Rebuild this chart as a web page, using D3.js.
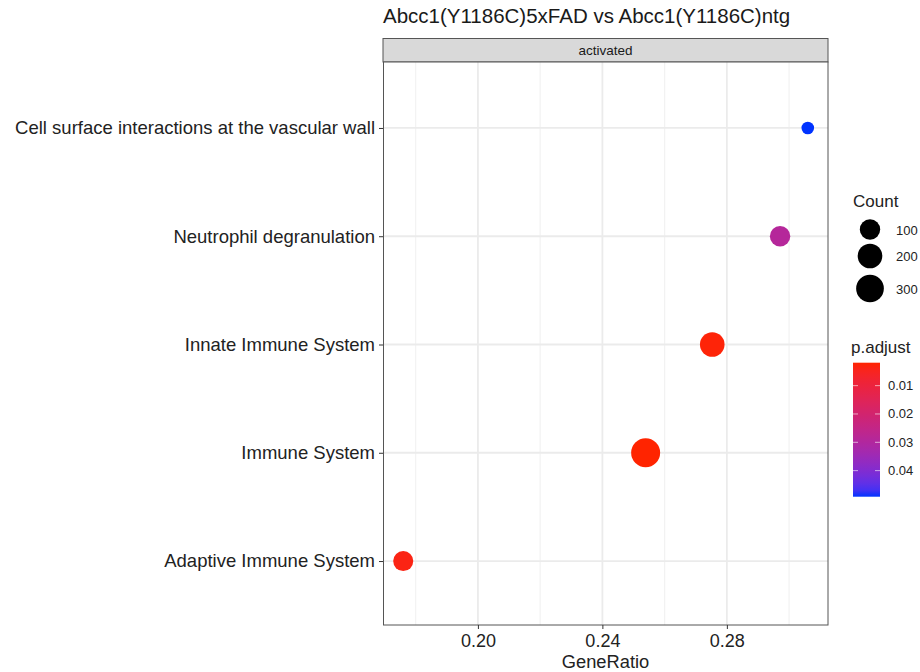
<!DOCTYPE html>
<html>
<head>
<meta charset="utf-8">
<script src="https://cdn.jsdelivr.net/npm/d3@7"></script>
<style>
  body { margin: 0; background: #fff; }
  svg { display: block; font-family: "Liberation Sans", Arial, Helvetica, sans-serif; }
</style>
</head>
<body>
<svg id="chart" width="920" height="672"></svg>
<script>
// ---- data ----
const categories = [
  "Cell surface interactions at the vascular wall",
  "Neutrophil degranulation",
  "Innate Immune System",
  "Immune System",
  "Adaptive Immune System"
];
const geneRatio = [0.306, 0.2971, 0.2753, 0.2539, 0.1760];
const counts = [28, 100, 199, 348, 95];
const pAdjust = [0.0492, 0.0290, 0.0025, 0.0019, 0.0035];
const xTicks = [0.20, 0.24, 0.28];
const xMinorTicks = [0.18, 0.22, 0.26, 0.30];
const countLegend = [100, 200, 300];
const pTicks = [0.01, 0.02, 0.03, 0.04];
const titleText = "Abcc1(Y1186C)5xFAD vs Abcc1(Y1186C)ntg";
const facetLabel = "activated";

const rows = categories.map((c, i) => ({ cat: c, x: geneRatio[i], count: counts[i], p: pAdjust[i] }));

const svg = d3.select("#chart");
const panel = { left: 383, right: 828, top: 62, bottom: 625 };

// x scale with 5% expansion
const xExt = d3.extent(geneRatio);
const xPad = (xExt[1] - xExt[0]) * 0.05;
const x = d3.scaleLinear().domain([xExt[0] - xPad, xExt[1] + xPad]).range([panel.left, panel.right]);

// y discrete with 0.6 expansion
const n = categories.length;
const step = (panel.bottom - panel.top) / (n - 1 + 1.2);
const y = d3.scalePoint().domain(categories).range([panel.top + 0.6 * step + 1, panel.bottom - 0.6 * step + 1]);

// size scale (area palette)
const cExt = d3.extent(counts);
const norm = d3.scaleLinear().domain(cExt).range([0, 1]);
const rS = d3.scaleSqrt().domain([0, 1]).range([6.3, 14.5]);
const radius = c => rS(Math.max(0, norm(c)));

// colour scale
const pExt = d3.extent(pAdjust);
const col = d3.scaleLinear().domain(pExt).range(["#ff2400", "#0033ff"]).interpolate(d3.interpolateLab);

// title
svg.append("text").attr("x", panel.left).attr("y", 23)
  .attr("font-size", 20.5).attr("fill", "#1a1a1a").text(titleText);

// strip
svg.append("rect").attr("x", panel.left).attr("y", 38.5).attr("width", panel.right - panel.left).attr("height", panel.top - 38.5)
  .attr("fill", "#d9d9d9").attr("stroke", "#555").attr("stroke-width", 1);
svg.append("text").attr("x", (panel.left + panel.right) / 2).attr("y", 55)
  .attr("text-anchor", "middle").attr("font-size", 13.5).attr("fill", "#1a1a1a").text(facetLabel);

// panel background
svg.append("rect").attr("x", panel.left).attr("y", panel.top).attr("width", panel.right - panel.left).attr("height", panel.bottom - panel.top)
  .attr("fill", "#fff");

// grids
const g = svg.append("g");
g.selectAll(".minor").data(xMinorTicks).join("line")
  .attr("x1", d => x(d)).attr("x2", d => x(d)).attr("y1", panel.top).attr("y2", panel.bottom)
  .attr("stroke", "#f2f2f2").attr("stroke-width", 1.2);
g.selectAll(".major").data(xTicks).join("line")
  .attr("x1", d => x(d)).attr("x2", d => x(d)).attr("y1", panel.top).attr("y2", panel.bottom)
  .attr("stroke", "#ebebeb").attr("stroke-width", 1.8);
g.selectAll(".ymajor").data(categories).join("line")
  .attr("x1", panel.left).attr("x2", panel.right).attr("y1", d => y(d)).attr("y2", d => y(d))
  .attr("stroke", "#ebebeb").attr("stroke-width", 1.8);

// points
svg.append("g").selectAll("circle").data(rows).join("circle")
  .attr("cx", d => x(d.x)).attr("cy", d => y(d.cat)).attr("r", d => radius(d.count))
  .attr("fill", d => col(d.p));

// panel border
svg.append("rect").attr("x", panel.left + 0.5).attr("y", panel.top).attr("width", panel.right - panel.left - 0.5).attr("height", panel.bottom - panel.top)
  .attr("fill", "none").attr("stroke", "#555").attr("stroke-width", 1);

// axes
const xAxis = d3.axisBottom(x).tickValues(xTicks).tickFormat(d3.format(".2f")).tickSize(4).tickPadding(5);
const xa = svg.append("g").attr("transform", `translate(0,${panel.bottom})`).call(xAxis);
xa.select(".domain").remove();
xa.selectAll(".tick line").attr("stroke", "#333");
xa.selectAll(".tick text").attr("font-size", 18).attr("fill", "#222").attr("font-family", "Liberation Sans, Arial, sans-serif");

const yAxis = d3.axisLeft(y).tickSize(4).tickPadding(4);
const ya = svg.append("g").attr("transform", `translate(${panel.left},0)`).call(yAxis);
ya.select(".domain").remove();
ya.selectAll(".tick line").attr("stroke", "#333");
ya.selectAll(".tick text").attr("font-size", 18.5).attr("fill", "#222").attr("font-family", "Liberation Sans, Arial, sans-serif");

svg.append("text").attr("x", (panel.left + panel.right) / 2).attr("y", 668)
  .attr("text-anchor", "middle").attr("font-size", 18.3).attr("fill", "#222").text("GeneRatio");

// legend: Count
svg.append("text").attr("x", 853).attr("y", 207).attr("font-size", 17).attr("fill", "#222").text("Count");
const cl = svg.append("g");
const legY = [229.5, 256, 288.5];
cl.selectAll("circle").data(countLegend).join("circle")
  .attr("cx", 870).attr("cy", (d, i) => legY[i]).attr("r", d => radius(d)).attr("fill", "#000");
cl.selectAll("text").data(countLegend).join("text")
  .attr("x", 896).attr("y", (d, i) => legY[i] + 5).attr("font-size", 13).attr("fill", "#222").text(d => d);

// legend: p.adjust colorbar
svg.append("text").attr("x", 851).attr("y", 353).attr("font-size", 17).attr("fill", "#222").text("p.adjust");
const barTop = 362.7, barBot = 496.7, barX = 853, barW = 27;
const py = d3.scaleLinear().domain(pExt).range([barTop, barBot]);
const defs = svg.append("defs");
const grad = defs.append("linearGradient").attr("id", "pgrad").attr("x1", 0).attr("x2", 0).attr("y1", 0).attr("y2", 1);
d3.range(0, 1.0001, 0.05).forEach(t => {
  grad.append("stop").attr("offset", t).attr("stop-color", col(pExt[0] + t * (pExt[1] - pExt[0])));
});
svg.append("rect").attr("x", barX).attr("y", barTop).attr("width", barW).attr("height", barBot - barTop).attr("fill", "url(#pgrad)");
const pt = svg.append("g");
pt.selectAll(".tl").data(pTicks).join("line")
  .attr("x1", barX).attr("x2", barX + 5).attr("y1", d => py(d)).attr("y2", d => py(d))
  .attr("stroke", "#fff").attr("stroke-opacity", 0.6).attr("stroke-width", 1);
pt.selectAll(".tr").data(pTicks).join("line")
  .attr("x1", barX + barW - 5).attr("x2", barX + barW).attr("y1", d => py(d)).attr("y2", d => py(d))
  .attr("stroke", "#fff").attr("stroke-opacity", 0.6).attr("stroke-width", 1);
pt.selectAll("text").data(pTicks).join("text")
  .attr("x", 888).attr("y", d => py(d) + 4.5).attr("font-size", 13).attr("fill", "#222").text(d => d3.format(".2f")(d));
</script>
</body>
</html>
